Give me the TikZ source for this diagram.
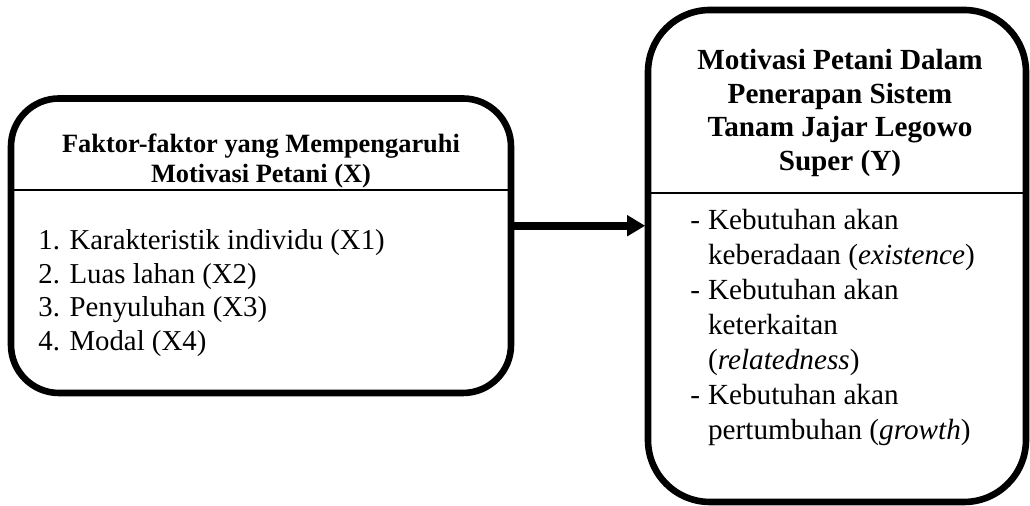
\documentclass[tikz,border=0pt]{standalone}
\usepackage{fontspec}
\setmainfont{Liberation Serif}
\usetikzlibrary{arrows.meta}
\newcommand{\ltitlefont}{\fontsize{13.2}{15}\selectfont\bfseries}
\newcommand{\rtitlefont}{\fontsize{14.6}{16.7}\selectfont\bfseries}
\newcommand{\lbodyfont}{\fontsize{14.4}{16.75}\selectfont}
\newcommand{\rbodyfont}{\fontsize{14.6}{17.5}\selectfont}
\tikzset{
  flowbox/.style={draw,line width=3.3pt,rounded corners=#1,outer sep=0pt,inner sep=0pt},
  sepline/.style={line width=0.6pt},
  linkarrow/.style={-{Triangle[length=9pt,width=10pt]},line width=3.8pt,shorten >=1.4pt},
}

\begin{document}
\begin{tikzpicture}[x=0.5pt,y=0.5pt]
  \useasboundingbox (0,0) rectangle (1030,506);

  % left box: faktor-faktor (X)
  \node[flowbox=24pt,minimum width=250pt,minimum height=147.25pt]
    (lbox) at (261,260.25) {};
  \draw[sepline]
    ([yshift=-45.75pt]lbox.north west) -- ([yshift=-45.75pt]lbox.north east);
  \node[font=\ltitlefont,align=center]
    (ltitle) at (261,345) {Faktor-faktor yang Mempengaruhi\\Motivasi Petani (X)};
  \node[font=\lbodyfont,align=left,anchor=west,inner sep=0pt]
    (llist) at (38,213) {1. Karakteristik individu (X1)\\2. Luas lahan (X2)\\3. Penyuluhan (X3)\\4. Modal (X4)};

  % right box: motivasi (Y)
  \node[flowbox=31pt,minimum width=189pt,minimum height=246pt]
    (rbox) at (837,250) {};
  \draw[sepline]
    ([yshift=-91.5pt]rbox.north west) -- ([yshift=-91.5pt]rbox.north east);
  \node[font=\rtitlefont,align=center]
    (rtitle) at (840,393) {Motivasi Petani Dalam\\Penerapan Sistem\\Tanam Jajar Legowo\\Super (Y)};
  \node[font=\rbodyfont,anchor=west,inner sep=0pt]
    (rlist) at (690,178) {\begin{tabular}{@{}l@{\hspace{4pt}}l@{}}
      - & Kebutuhan akan\\
        & keberadaan (\textit{existence})\\
      - & Kebutuhan akan\\
        & keterkaitan\\
        & (\textit{relatedness})\\
      - & Kebutuhan akan\\
        & pertumbuhan (\textit{growth})
    \end{tabular}};

  % X -> Y
  \coordinate (astart) at ([yshift=10pt]lbox.east);
  \draw[linkarrow] (astart) -- (astart -| rbox.west);
\end{tikzpicture}
\end{document}
